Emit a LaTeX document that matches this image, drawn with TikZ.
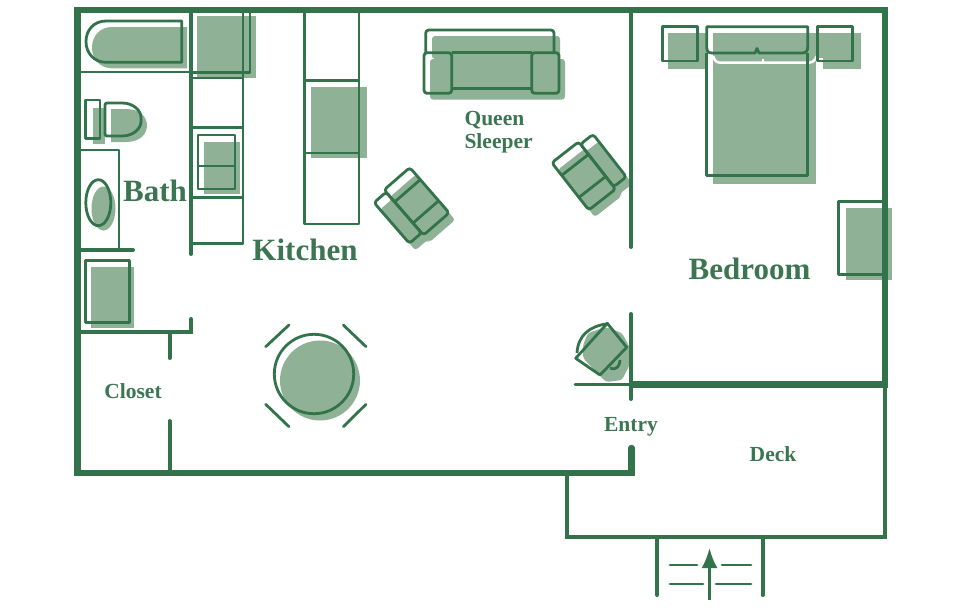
\documentclass[tikz,border=0pt]{standalone}
\usepackage{fontspec}
\setmainfont{Liberation Serif}
\usetikzlibrary{arrows.meta}
\definecolor{walls}{HTML}{33734B}
\definecolor{furn}{HTML}{8FB297}
\definecolor{words}{HTML}{3C7552}
\tikzset{
  wall/.style={walls, line width=6.5pt, line join=miter},
  partition/.style={walls, line width=4pt, line cap=round},
  fixture/.style={walls, line width=2.8pt, line join=round},
  backfill/.style={fill=furn, draw=none},
  bigroom/.style={words, font=\fontsize{31}{31}\selectfont\bfseries},
  smallroom/.style={words, font=\fontsize{21.5}{21.5}\selectfont\bfseries}
}
\newcommand{\armchair}[3]{
\fill[backfill, rounded corners=3pt, shift={(#1+6,#2+7)}, rotate=#3]
(-25,-27) -- (-9,-27) -- (-9,-30) -- (25,-30) -- (25,30) -- (-9,30) -- (-9,27) -- (-25,27) -- cycle;
\draw[fixture, rounded corners=3pt, shift={(#1,#2)}, rotate=#3]
(-25,-27) -- (-9,-27) -- (-9,27) -- (-25,27) -- cycle;
\draw[fixture, rounded corners=3pt, shift={(#1,#2)}, rotate=#3]
(-9,-30) -- (25,-30) -- (25,30) -- (-9,30) -- cycle;
\draw[fixture, shift={(#1,#2)}, rotate=#3] (-9,-14) -- (25,-14) (-9,14) -- (25,14);
}
\begin{document}
\begin{tikzpicture}[x=1pt, y=-1pt, >={Latex[length=20pt,width=16pt]}]

\useasboundingbox (0,0) rectangle (960,611);

% shadows of the furniture
\fill[backfill] (187,27) -- (112,27) .. controls (100,27) and (92,36) .. (92,47.5) .. controls (92,59) and (100,68.3) .. (112,68.3) -- (187,68.3) -- cycle;
\fill[backfill] (197,16) rectangle (256,78);
\fill[backfill] (204,142) rectangle (240,194);
\fill[backfill] (311,87) rectangle (367,158);
\fill[backfill] (92.5,108) rectangle (105,144);
\fill[backfill] (111,109) -- (126,109) .. controls (140,109) and (147,117) .. (147,125.5) .. controls (147,134) and (140,142) .. (126,142) -- (111,142) -- cycle;
\fill[backfill] (103.5,208.5) ellipse [x radius=12, y radius=22];
\fill[backfill] (91,267) rectangle (133.5,327.5);
\fill[backfill] (320,380.5) circle [radius=40];
\fill[backfill, rounded corners=3pt] (432,36) rectangle (560,59);
\fill[backfill, rounded corners=3pt] (430,59) rectangle (565,99.5);
\fill[backfill] (668,32.5) rectangle (708,69);
\fill[backfill] (823,32.5) rectangle (860.5,69);
\fill[backfill] (712.5,32.5) rectangle (816,184);
\fill[backfill] (808,32.5) rectangle (823,58);
\fill[backfill] (846,208) rectangle (891.5,280);
\fill[backfill, rounded corners=3pt] (583,345) -- (588,333) -- (606,327) -- (622,333) -- (631,350) -- (632,360) -- (622,380) -- (606,382) -- (583,358) -- cycle;

% seam below the pillows
\draw[white, line width=2.5pt, rounded corners=3pt] (713,56) -- (716,62.5) -- (813,62.5) -- (817,56);
\draw[white, line width=2.5pt] (763,62.5) -- (763,59);

% bath
\draw[fixture] (181.7,21) -- (106,21) .. controls (94,21) and (86,30) .. (86,41.5) .. controls (86,53) and (94,62.3) .. (106,62.3) -- (181.7,62.3) -- cycle;
\draw[fixture] (77,72) -- (191,72);
\draw[fixture] (85.7,100) rectangle (100,138.3);
\draw[fixture, rounded corners=2pt] (105,103) -- (120,103) .. controls (134,103) and (141,111) .. (141,119.5) .. controls (141,128) and (134,136) .. (120,136) -- (105,136) -- cycle;
\draw[fixture] (77,150) -- (119,150) -- (119,250);
\draw[fixture] (98.3,202.7) ellipse [x radius=12.5, y radius=23];
\draw[fixture] (85.3,260.7) rectangle (129.3,322.3);

% kitchen
\draw[fixture] (191,72.7) -- (250,72.7) -- (250,10);
\draw[fixture] (243,10) -- (243,243.3) -- (191,243.3);
\draw[fixture] (191,78) -- (243,78);
\draw[fixture] (191,127.7) -- (243,127.7);
\draw[fixture] (191,197.7) -- (243,197.7);
\draw[fixture] (198,135) rectangle (235,189);
\draw[fixture] (198,166) -- (235,166);
\draw[fixture] (304.3,10) rectangle (359,224);
\draw[fixture] (304.3,80.7) -- (359,80.7);
\draw[fixture] (304.3,153) -- (359,153);

% sleeper sofa
\draw[fixture, rounded corners=3pt] (425.7,52.7) -- (425.7,30) -- (554,30) -- (554,52.7);
\draw[fixture, rounded corners=3pt] (424,52.7) rectangle (451.7,93.3);
\draw[fixture, rounded corners=3pt] (531.7,52.7) rectangle (559,93.3);
\draw[fixture] (451.7,52.7) -- (531.7,52.7) (451.7,88.3) -- (531.7,88.3);

\armchair{410.6}{206.6}{41}
\armchair{590}{171}{218}

% table
\draw[fixture] (314,374) circle [radius=39.7];
\draw[fixture, line cap=round] (265.7,346.7) -- (289,325);
\draw[fixture, line cap=round] (343.3,325) -- (366,346.7);
\draw[fixture, line cap=round] (265.7,404.3) -- (289,426.7);
\draw[fixture, line cap=round] (343.3,426.7) -- (366,404.3);

% small chair
\draw[fixture] (575.7,358.3) -- (607.3,323.3) -- (626.7,347.3) -- (600,375) -- cycle;
\draw[fixture] (577,353) .. controls (578,335) and (590,326) .. (607.3,323.8);
\draw[fixture] (610,368) .. controls (617,371) and (620,365) .. (620,360);

% bed
\draw[fixture] (662.7,26.7) rectangle (697.7,61);
\draw[fixture] (817.7,26.7) rectangle (852.7,61);
\draw[fixture] (706.7,53) -- (706.7,175.7) -- (807.7,175.7) -- (807.7,53);
\draw[fixture] (706.7,47) -- (706.7,26.7) -- (807.7,26.7) -- (807.7,47) .. controls (807.7,51) and (806,53) .. (802,53) -- (759,53) -- (757,48.5) -- (755,53) -- (712,53) .. controls (708,53) and (706.7,51) .. (706.7,47);
\draw[fixture] (885,201.7) -- (838.3,201.7) -- (838.3,274.3) -- (885,274.3);

% walls
\draw[wall] (77.5,10) -- (885,10) -- (885,385);
\draw[wall, line cap=round] (631.5,448) -- (631.5,473) -- (77.5,473) -- (77.5,10) -- (80,10);
\draw[partition, line width=4.5pt] (885,385) -- (885,537) -- (567,537) -- (567,473);
\draw[partition] (631,10) -- (631,247);
\draw[partition] (631,314) -- (631,399);
\draw[wall] (631,384.5) -- (888,384.5);
\draw[partition, line width=3pt] (575,384.5) -- (631,384.5);
\draw[partition] (191,10) -- (191,254);
\draw[partition] (191,319) -- (191,332) -- (77,332);
\draw[partition] (77,250) -- (133,250);
\draw[partition] (169.5,332) -- (169.5,358);
\draw[partition] (169.5,421) -- (169.5,473);

% stairs
\draw[partition] (657,537) -- (657,595);
\draw[partition] (762.5,537) -- (762.5,595);
\draw[fixture, line cap=round] (670,565) -- (697,565) (722,565) -- (751,565);
\draw[fixture, line cap=round] (670,584) -- (703,584) (716,584) -- (751,584);
\draw[->, fixture] (709.5,600) -- (709.5,548);

\node[bigroom] (bath) at (155,191) {Bath};
\node[bigroom] (kitchen) at (305,250) {Kitchen};
\node[bigroom] (bedroom) at (749.5,269) {Bedroom};
\node[smallroom, anchor=west] (queen) at (461,120.5) {Queen};
\node[smallroom, anchor=west] (sleeper) at (461,143.5) {Sleeper};
\node[smallroom] (closet) at (133,391) {Closet};
\node[smallroom] (entry) at (631,427) {Entry};
\node[smallroom] (deck) at (773,454) {Deck};

\end{tikzpicture}
\end{document}
